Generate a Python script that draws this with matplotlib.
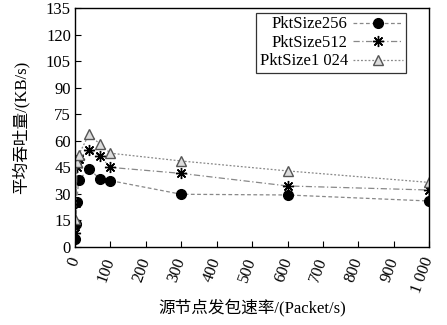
import matplotlib
matplotlib.use("Agg")
import matplotlib.pyplot as plt

plt.rcParams['font.family'] = ['Liberation Serif', 'Noto Sans CJK SC']

# ── Data ──────────────────────────────────────────────────────────────────────
x256 = [1, 2, 5, 10, 40, 70, 100, 300, 600, 1000]
y256 = [4.5, 13, 25.5, 38, 44, 38.5, 37.5, 29.8, 29.4, 26]

x512 = [1, 3, 5, 10, 40, 70, 100, 300, 600, 1000]
y512 = [8, 25, 45, 50, 55, 51.5, 45, 41.6, 34.5, 32.2]

x1024 = [1, 5, 10, 40, 70, 100, 300, 600, 1000]
y1024 = [16, 48, 52, 64, 58, 53, 48.6, 43, 36.5]

xticks = [0, 100, 200, 300, 400, 500, 600, 700, 800, 900, 1000]
xtick_labels = ["0", "100", "200", "300", "400", "500", "600", "700", "800", "900", "1 000"]
yticks = [0, 15, 30, 45, 60, 75, 90, 105, 120, 135]

# ── Figure ────────────────────────────────────────────────────────────────────
fig = plt.figure(figsize=(4.47, 3.25), dpi=100, facecolor="white")
ax = fig.add_axes([0.168, 0.24, 0.792, 0.735])

ax.plot(x256, y256, linestyle=(0, (3, 2)), color="#888888", linewidth=0.9,
        marker="o", markersize=7, markerfacecolor="black", markeredgecolor="black",
        label="PktSize256")
ax.plot(x512, y512, linestyle=(0, (5, 2, 1, 2)), color="#888888", linewidth=0.9,
        marker=(8, 2, 0), markersize=8, markeredgecolor="black", markeredgewidth=1.0,
        label="PktSize512")
ax.plot(x1024, y1024, linestyle=(0, (1.5, 1.5)), color="#888888", linewidth=0.9,
        marker="^", markersize=7, markerfacecolor="#dddddd", markeredgecolor="#555555",
        label="PktSize1 024")

ax.set_xlim(0, 1000)
ax.set_ylim(0, 135)
ax.set_xticks(xticks)
ax.set_xticklabels(xtick_labels, rotation=70, ha="right", va="center", fontsize=12,
                   rotation_mode="anchor")
ax.set_yticks(yticks)
ax.tick_params(axis="y", direction="in", labelsize=12, length=4, pad=3)
ax.tick_params(axis="x", direction="in", length=4, pad=8)

for sp in ax.spines.values():
    sp.set_linewidth(1.0)

ax.set_ylabel("平均吞吐量/(KB/s)", fontsize=12, labelpad=12)
ax.set_xlabel("源节点发包速率/(Packet/s)", fontsize=12, labelpad=2)

leg = ax.legend(loc="upper right", markerfirst=False, fontsize=12, frameon=True,
                fancybox=False, edgecolor="black", handlelength=3.0,
                borderpad=0.2, labelspacing=0.15, handletextpad=0.3,
                borderaxespad=0, bbox_to_anchor=(0.935, 0.979))
leg.get_frame().set_linewidth(0.9)

fig.savefig("out.png", dpi=100, facecolor="white")
